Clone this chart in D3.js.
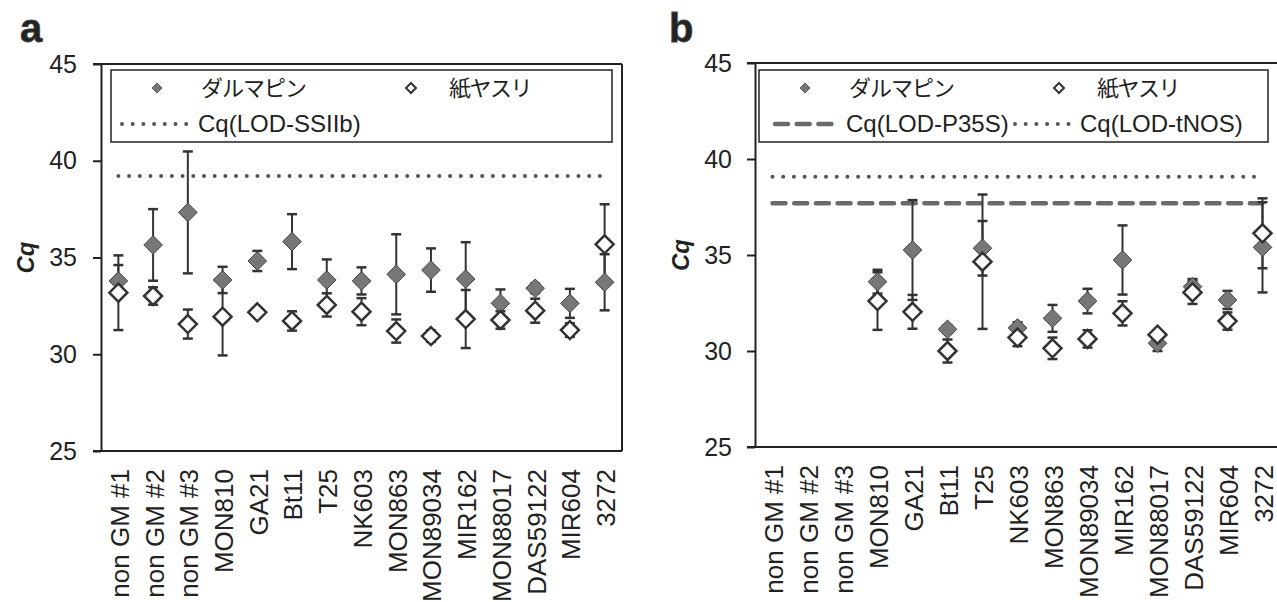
<!DOCTYPE html>
<meta charset="utf-8">
<style>
    body { margin: 0; background: #fff; }
    text { font-family: "Liberation Sans", Arial, sans-serif; fill: #222; }
    .jp { font-family: "Noto Sans CJK JP", sans-serif; }
    .frame { stroke: #222; stroke-width: 2; fill: none; }
    .err { stroke: #333; stroke-width: 2; }
    .cap { stroke: #333; stroke-width: 2.5; }
</style>
<body>
<script src="https://cdn.jsdelivr.net/npm/d3@7"></script>
<script>

// categories along x
var categories = ["non GM #1", "non GM #2", "non GM #3", "MON810", "GA21", "Bt11", "T25",
    "NK603", "MON863", "MON89034", "MIR162", "MON88017", "DAS59122", "MIR604", "3272"];
var yTicks = [25, 30, 35, 40, 45];

// panel a : SSIIb
var dalmaA    = [33.79, 35.65, 37.33, 33.84, 34.82, 35.82, 33.84, 33.79, 34.13, 34.35, 33.89, 32.63, 33.41, 32.63, 33.72];
var dalmaAErr = [0.82, 1.85, 3.15, 0.68, 0.52, 1.42, 1.06, 0.70, 2.07, 1.12, 1.90, 0.72, 0.25, 0.75, 1.45];
var paperA    = [33.18, 33.01, 31.56, 31.94, 32.17, 31.72, 32.55, 32.20, 31.20, 30.94, 31.82, 31.77, 32.25, 31.25, 35.68];
var paperAErr = [1.93, 0.45, 0.75, 2.00, 0.20, 0.50, 0.60, 0.70, 0.60, 0.30, 1.50, 0.45, 0.62, 0.35, 2.07];
var lodSSIIb = 39.21;

// panel b : P35S / tNOS (no values for non GM)
var dalmaB    = [null, null, null, 33.61, 35.26, 31.13, 35.35, 31.20, 31.70, 32.60, 34.74, 30.40, 33.35, 32.66, 35.40];
var dalmaBErr = [null, null, null, 0.62, 2.60, 0.20, 1.42, 0.30, 0.70, 0.64, 1.80, 0.40, 0.40, 0.47, 2.35];
var paperB    = [null, null, null, 32.60, 32.04, 30.00, 34.65, 30.70, 30.14, 30.63, 31.96, 30.85, 33.05, 31.56, 36.13];
var paperBErr = [null, null, null, 1.50, 0.88, 0.60, 3.50, 0.45, 0.56, 0.45, 0.63, 0.15, 0.60, 0.45, 1.82];
var lodP35S = 37.69;
var lodTNOS = 39.08;

var svg = d3.select("body").append("svg")
    .attr("width", 1277)
    .attr("height", 602);

function diamond(r) {
    return "M0," + (-r) + "L" + r + ",0L0," + r + "L" + (-r) + ",0Z";
}

function lodLine(g, x1, x2, yv, kind) {
    var l = g.append("line")
        .attr("x1", x1).attr("x2", x2)
        .attr("y1", yv).attr("y2", yv)
        .attr("stroke-linecap", "round")
        .attr("fill", "none");
    if (kind == "dot") {
        l.attr("stroke", "#555").attr("stroke-width", 4).attr("stroke-dasharray", "0 10.7");
    } else {
        l.attr("stroke", "#6a6a6a").attr("stroke-width", 4.5).attr("stroke-dasharray", "13 8.7");
    }
}

function drawPanel(p) {
    var x = d3.scaleBand().domain(categories).range([p.left, p.right]);
    var y = d3.scaleLinear().domain([25, 45]).range([p.bottom, p.top]);
    var cx = function (i) { return x(categories[i]) + x.bandwidth() / 2; };
    var g = svg.append("g");

    // y axis
    var ya = g.append("g")
        .attr("transform", "translate(" + p.left + ",0)")
        .call(d3.axisLeft(y).tickValues(yTicks).tickSize(8).tickSizeOuter(0).tickPadding(p.pad));
    ya.selectAll("text").style("font-size", "25px").attr("fill", "#222");
    ya.selectAll("line").attr("stroke", "#222").attr("stroke-width", 2);
    ya.select(".domain").attr("stroke", "#222").attr("stroke-width", 2);

    // x axis labels, rotated
    var xa = g.append("g")
        .attr("transform", "translate(0," + p.bottom + ")")
        .call(d3.axisBottom(x).tickSize(0));
    xa.select(".domain").remove();
    xa.selectAll("text")
        .style("font-size", "26px")
        .style("text-anchor", "end")
        .attr("fill", "#222")
        .attr("transform", "rotate(-90)")
        .attr("x", -18).attr("y", 0).attr("dy", "0.4em");

    // frame: top, bottom, right
    g.append("line").attr("class", "frame")
        .attr("x1", p.left - 8).attr("x2", p.right).attr("y1", p.top).attr("y2", p.top);
    g.append("line").attr("class", "frame")
        .attr("x1", p.left - 8).attr("x2", p.right).attr("y1", p.bottom).attr("y2", p.bottom);
    g.append("line").attr("class", "frame")
        .attr("x1", p.right).attr("x2", p.right).attr("y1", p.top).attr("y2", p.bottom);

    // LOD lines
    p.lods.forEach(function (l) {
        lodLine(g, cx(0), cx(categories.length - 1), y(l.value), l.kind);
    });

    // error bars of both series
    [[p.dalma, p.dalmaErr], [p.paper, p.paperErr]].forEach(function (s) {
        s[0].forEach(function (v, i) {
            if (v == null) return;
            var e = s[1][i];
            g.append("line").attr("class", "err")
                .attr("x1", cx(i)).attr("x2", cx(i))
                .attr("y1", y(v - e)).attr("y2", y(v + e));
            [v - e, v + e].forEach(function (c) {
                g.append("line").attr("class", "cap")
                    .attr("x1", cx(i) - 5).attr("x2", cx(i) + 5)
                    .attr("y1", y(c)).attr("y2", y(c));
            });
        });
    });

    // markers
    p.dalma.forEach(function (v, i) {
        if (v == null) return;
        g.append("path").attr("d", diamond(9.3))
            .attr("transform", "translate(" + cx(i) + "," + y(v) + ")")
            .attr("fill", "#777").attr("stroke", "#444").attr("stroke-width", 1);
    });
    p.paper.forEach(function (v, i) {
        if (v == null) return;
        g.append("path").attr("d", diamond(9))
            .attr("transform", "translate(" + cx(i) + "," + y(v) + ")")
            .attr("fill", "#fff").attr("stroke", "#333").attr("stroke-width", 2.5);
    });

    // y title
    g.append("text")
        .attr("transform", "translate(" + p.titleX + "," + ((p.top + p.bottom) / 2) + ") rotate(-90)")
        .attr("text-anchor", "middle")
        .attr("dy", "0.35em")
        .style("font-size", "24px").style("font-weight", "bold").style("font-style", "italic")
        .attr("fill", "#333")
        .text("Cq");

    // panel letter
    g.append("text")
        .attr("x", p.letterX).attr("y", 42)
        .style("font-size", "40px").style("font-weight", "bold")
        .attr("fill", "#8a8a8a").attr("stroke", "#444").attr("stroke-width", 0.8)
        .text(p.letter);

    // legend
    var lx = p.legX;
    var leg = g.append("g");
    leg.append("rect")
        .attr("x", lx).attr("y", 70)
        .attr("width", p.legW).attr("height", 72)
        .attr("fill", "#fff").attr("stroke", "#222").attr("stroke-width", 1.5);
    leg.append("path").attr("d", diamond(5))
        .attr("transform", "translate(" + (lx + 46) + ",88)")
        .attr("fill", "#777").attr("stroke", "#444").attr("stroke-width", 0.8);
    leg.append("text").attr("class", "jp")
        .attr("x", lx + 90).attr("y", 88).attr("dy", "0.35em")
        .style("font-size", "22px").style("letter-spacing", "-1px")
        .text("ダルマピン");
    leg.append("path").attr("d", diamond(5))
        .attr("transform", "translate(" + (lx + 300) + ",88)")
        .attr("fill", "#fff").attr("stroke", "#333").attr("stroke-width", 2);
    leg.append("text").attr("class", "jp")
        .attr("x", lx + 338).attr("y", 88).attr("dy", "0.35em")
        .style("font-size", "22px").style("letter-spacing", "-1.5px")
        .text("紙ヤスリ");
    p.lods.forEach(function (l) {
        lodLine(leg, l.lx1, l.lx2, 124, l.kind);
        leg.append("text")
            .attr("x", l.tx).attr("y", 124).attr("dy", "0.35em")
            .style("font-size", "24px")
            .text(l.label);
    });
}

drawPanel({
    letter: "a", letterX: 20, titleX: 26,
    left: 101, right: 622, top: 64, bottom: 451, pad: 16,
    legX: 111, legW: 501,
    dalma: dalmaA, dalmaErr: dalmaAErr, paper: paperA, paperErr: paperAErr,
    lods: [{ value: lodSSIIb, kind: "dot", label: "Cq(LOD-SSIIb)", lx1: 122, lx2: 188, tx: 198 }]
});

drawPanel({
    letter: "b", letterX: 669, titleX: 681,
    left: 755, right: 1280, top: 63, bottom: 447, pad: 15,
    legX: 759, legW: 509,
    dalma: dalmaB, dalmaErr: dalmaBErr, paper: paperB, paperErr: paperBErr,
    lods: [{ value: lodP35S, kind: "dash", label: "Cq(LOD-P35S)", lx1: 775, lx2: 838, tx: 846 },
           { value: lodTNOS, kind: "dot", label: "Cq(LOD-tNOS)", lx1: 1015, lx2: 1073, tx: 1080 }]
});

</script>
</body>
